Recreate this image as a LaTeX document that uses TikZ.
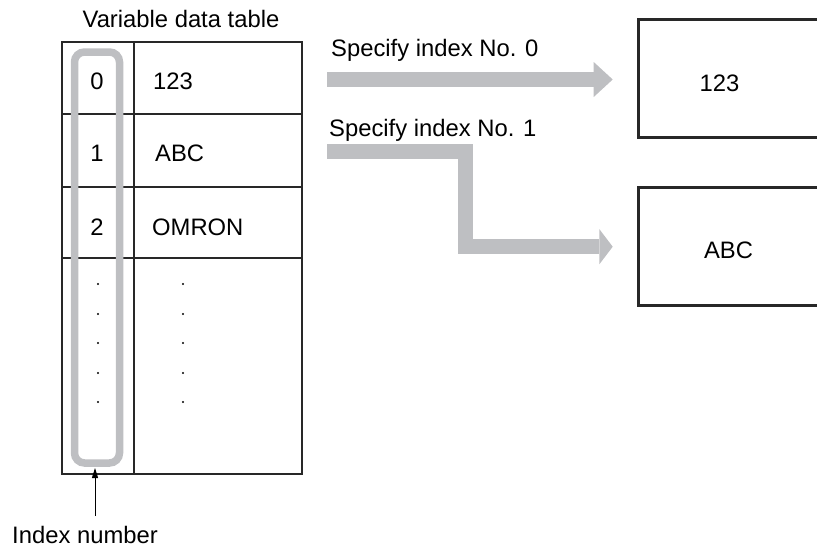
\documentclass[tikz,border=0pt]{standalone}
\usepackage{fontspec}
\setmainfont{Liberation Sans}
\usetikzlibrary{arrows.meta}
\definecolor{arrowgray}{RGB}{190,191,194}
\definecolor{linegray}{RGB}{40,40,40}
\tikzset{
  fat/.style={draw=arrowgray, line width=15pt, line join=miter, -{Triangle[width=35pt, length=#1, line width=0pt, fill=arrowgray]}},
  fat/.default=19pt
}

\begin{document}
\begin{tikzpicture}[x=1pt, y=-1pt]
  \tikzset{
    txt/.style={inner sep=0pt, anchor=base, font=\fontsize{23.8}{28}\selectfont},
    txt_w/.style={txt, anchor=base west},
    tbl_line/.style={draw=linegray, line width=1.2pt},
    idx_box/.style={draw=arrowgray, line width=7.5pt, rounded corners=10pt, minimum width=45pt, minimum height=411pt, inner sep=0pt},
    out_box/.style={draw=linegray, line width=3.2pt, minimum width=212pt, minimum height=118pt, inner sep=0pt},
    thin_arrow/.style={draw=black, line width=1pt, -{Triangle[length=10pt, width=6pt, fill=black]}}
  }
  \useasboundingbox (0,0) rectangle (817,547);
  \clip (0,0) rectangle (817,547);

  % Tabla de datos
  \node[txt] (head) at (181,27) {Variable data table};
  \draw[tbl_line] (62,42) rectangle (302,474);
  \draw[tbl_line] (134,42) -- (134,474);
  \foreach \y in {114,187,258}
    \draw[tbl_line] (62,\y) -- (302,\y);

  % Filas con indice y valor
  \node[txt] (n0) at (97,89) {0};
  \node[txt] (n1) at (97,161.5) {1};
  \node[txt] (n2) at (97,235) {2};
  \node[txt_w] (d0) at (153,89) {123};
  \node[txt_w] (d1) at (155,161.5) {ABC};
  \node[txt_w] (d2) at (152,235) {OMRON};

  % Puntos suspensivos
  \foreach \y in {284,314,343,373,402} {
    \fill (98,\y) circle (1.2pt);
    \fill (183,\y) circle (1.2pt);
  }

  % Columna de indices resaltada
  \node[idx_box] (idx) at (97,257.5) {};
  \node[txt] (idxlbl) at (85,543) {Index number};
  \coordinate (ax) at (95,516);
  \coordinate (az) at (95,468);
  \draw[thin_arrow] (ax) -- (az);

  % Cajas de salida
  \node[out_box] (box0) at (744.3,78.8) {};
  \node[out_box] (box1) at (744.3,246.7) {};
  \node[txt] (val0) at (719.5,91.7) {123};
  \node[txt] (val1) at (728.5,258) {ABC};

  % Flechas grises
  \node[txt_w] (spec0) at (331,56) {Specify index No. 0};
  \node[txt_w] (spec1) at (329,136) {Specify index No. 1};
  \coordinate (s0) at (327,79.5);
  \coordinate (s1) at (327,151.5);
  \coordinate (k1) at (465.5,151.5);
  \draw[fat, shorten >=24pt] (s0) -- (s0 -| box0.west);
  \draw[fat=13.3pt, shorten >=24pt] (s1) -- (k1) |- (box1.west);
\end{tikzpicture}
\end{document}
